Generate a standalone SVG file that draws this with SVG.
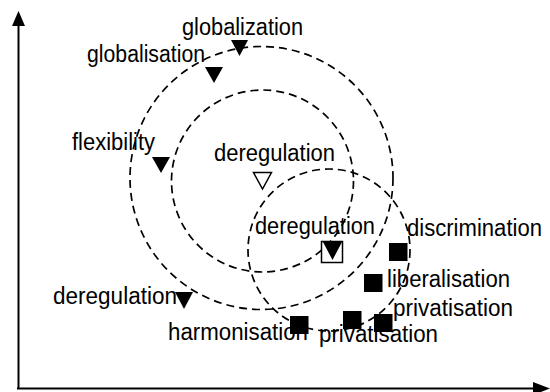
<svg xmlns="http://www.w3.org/2000/svg" width="550" height="392" viewBox="0 0 550 392">
<style>
text{font-family:"Liberation Sans",Arial,Helvetica,sans-serif;font-size:23px;fill:#000}
.ring{fill:none;stroke:#000;stroke-width:1.7;stroke-dasharray:8 5}
.axis{stroke:#000;stroke-width:2;fill:none}
.tri{fill:#000}
.otri{fill:#fff;stroke:#000;stroke-width:1.5}
.sq{fill:#000}
.osq{fill:#fff;stroke:#000;stroke-width:1.5}
</style>
<rect width="550" height="392" fill="#fff"/>
<g id="connectors">
  <g id="axes">
    <line class="axis" x1="18.5" y1="389" x2="18.5" y2="24"/>
    <polygon points="18.5,11 12,26 25,26" fill="#000"/>
    <line class="axis" x1="17" y1="388.5" x2="535" y2="388.5"/>
    <polygon points="550,388.5 533,382 533,395" fill="#000"/>
  </g>
</g>
<g id="labels">
  <text x="182" y="35" textLength="121" lengthAdjust="spacingAndGlyphs">globalization</text>
  <text x="87" y="62" textLength="118" lengthAdjust="spacingAndGlyphs">globalisation</text>
  <text x="72" y="150" textLength="83" lengthAdjust="spacingAndGlyphs">flexibility</text>
  <text x="214" y="161" textLength="121" lengthAdjust="spacingAndGlyphs">deregulation</text>
  <text x="255" y="234" textLength="120" lengthAdjust="spacingAndGlyphs">deregulation</text>
  <text x="53" y="304" textLength="124" lengthAdjust="spacingAndGlyphs">deregulation</text>
  <text x="168" y="340" textLength="140" lengthAdjust="spacingAndGlyphs">harmonisation</text>
  <text x="319" y="342" textLength="119" lengthAdjust="spacingAndGlyphs">privatisation</text>
  <text x="393" y="316" textLength="120" lengthAdjust="spacingAndGlyphs">privatisation</text>
  <text x="387" y="287" textLength="123" lengthAdjust="spacingAndGlyphs">liberalisation</text>
  <text x="407" y="236" textLength="135" lengthAdjust="spacingAndGlyphs">discrimination</text>
</g>
<g id="clusters">
  <circle id="ring-outer" class="ring" cx="261.5" cy="178" r="131.5"/>
  <circle id="ring-middle" class="ring" cx="262.5" cy="181" r="91"/>
  <circle id="ring-lower" class="ring" cx="329" cy="250" r="81"/>
</g>
<g id="node-globalization"><polygon class="tri" points="231,40 248,40 239.5,56"/></g>
<g id="node-globalisation"><polygon class="tri" points="205,67 223,67 214,83"/></g>
<g id="node-flexibility"><polygon class="tri" points="152,157 170,157 161,173"/></g>
<g id="node-deregulation-top"><polygon class="otri" points="253.5,172.5 271.5,172.5 262.5,189"/></g>
<g id="node-deregulation-mid">
  <rect class="osq" x="321.5" y="241.5" width="21" height="21"/>
  <polygon class="tri" points="323,242 342,242 332.5,260"/>
</g>
<g id="node-deregulation-left"><polygon class="tri" points="175,292 193,292 184,309"/></g>
<g id="node-discrimination"><rect class="sq" x="389" y="243" width="18.5" height="18"/></g>
<g id="node-liberalisation"><rect class="sq" x="364" y="274" width="18.5" height="18"/></g>
<g id="node-privatisation-right"><rect class="sq" x="374" y="314" width="18.5" height="18"/></g>
<g id="node-privatisation-bottom"><rect class="sq" x="343" y="311" width="18.5" height="18"/></g>
<g id="node-harmonisation"><rect class="sq" x="290" y="316" width="18.5" height="18"/></g>
</svg>
